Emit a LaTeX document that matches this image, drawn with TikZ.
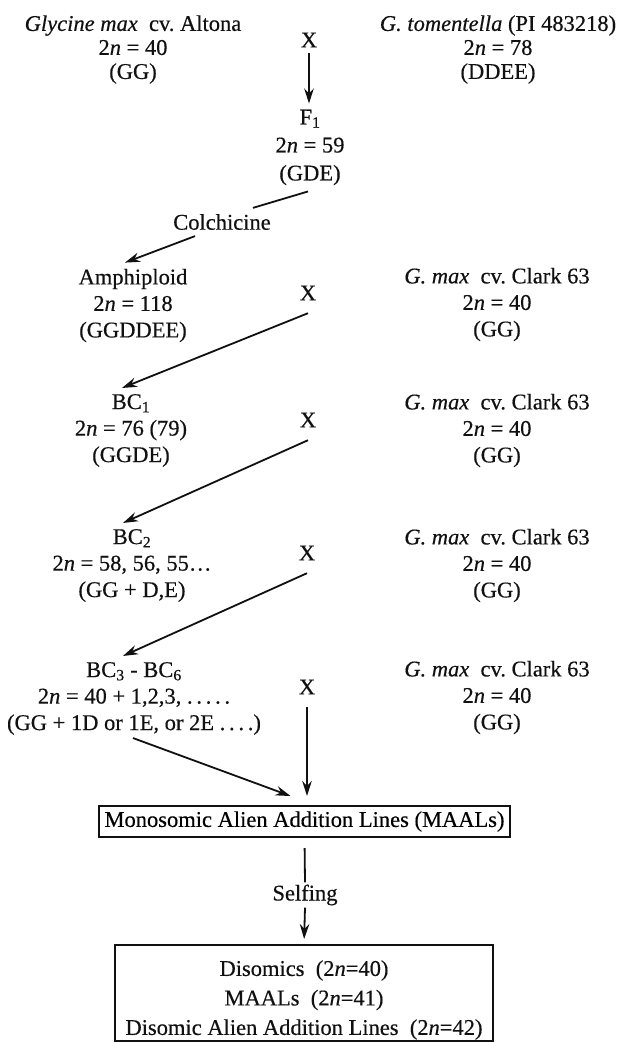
\documentclass[tikz,border=0pt]{standalone}
\usepackage{fontspec}
\setmainfont{Liberation Serif}[FakeBold=0.4]
\usepackage{tikz}
\usetikzlibrary{arrows.meta,positioning}
\definecolor{ink}{HTML}{111111}
\tikzset{
  gentext/.style={text=ink,align=center,inner sep=6pt,
                  font=\fontsize{22.5}{26.5}\selectfont},
  toptext/.style={gentext,font=\fontsize{22.5}{24}\selectfont},
  crossmark/.style={text=ink,inner sep=0pt,minimum height=40pt,
                    font=\fontsize{22.5}{26.5}\selectfont},
  linebox/.style={draw=ink,line width=2pt,inner sep=0pt,
                  font=\fontsize{22.5}{29.5}\selectfont},
  flowarr/.style={-{Stealth[length=15pt,width=9.5pt]},line width=1.8pt,draw=ink},
  plainline/.style={line width=1.8pt,draw=ink}
}
\newcommand{\twon}{2\textit{n}}
\newcommand{\clarkline}{\textit{G.\ max}\ \ cv.\ Clark 63\\ \twon{} = 40\\ (GG)}

\begin{document}
\begin{tikzpicture}[x=1pt,y=-1pt]
  \fill[white] (0,0) rectangle (619,1043);
  \useasboundingbox (0,0) rectangle (619,1043);
  % parents and F1
  \node[toptext] (altona) at (133,49.5) {\textit{Glycine max}\ \ cv.\ Altona\\ \twon{} = 40\\ (GG)};
  \node[toptext] (tomen) at (498,49.5) {\textit{G.\ tomentella} (PI 483218)\\ \twon{} = 78\\ (DDEE)};
  \node[crossmark] (x1) at (309,40) {X};
  \node[gentext,font=\fontsize{22.5}{28}\selectfont] (f1) at (310,147.5) {F\textsubscript{1}\\ \twon{} = 59\\ (GDE)};
  \node[gentext] (colch) at (222,222) {Colchicine};
  % backcross ladder
  \node[gentext] (amphi) at (133,305.5) {Amphiploid\\ \twon{} = 118\\ (GGDDEE)};
  \node[gentext] (bc1) at (131,430.5) {BC\textsubscript{1}\\ \twon{} = 76 (79)\\ (GGDE)};
  \node[gentext] (bc2) at (132,565.5) {BC\textsubscript{2}\\ \twon{} = 58, 56, 55\ldots\\ (GG + D,E)};
  \node[gentext] (bc3) at (134,698.5) {BC\textsubscript{3} - BC\textsubscript{6}\\ \twon{} = 40 + 1,2,3, .\,.\,.\,.\,.\\ (GG + 1D or 1E, or 2E .\,.\,.\,.)};
  \node[gentext] (clarkA) at (497,304.5) {\clarkline};
  \node[gentext] (clarkB) at (497,430.5) {\clarkline};
  \node[gentext] (clarkC) at (497,565.5) {\clarkline};
  \node[gentext] (clarkD) at (497,697.5) {\clarkline};
  \node[crossmark] (x2) at (308,293) {X};
  \node[crossmark] (x3) at (308,420) {X};
  \node[crossmark] (x4) at (307,553) {X};
  \node[crossmark] (x5) at (307,687) {X};
  % addition lines
  \node[linebox,minimum width=411pt,minimum height=31pt] (maal) at (304.5,821.5) {Monosomic Alien Addition Lines (MAALs)};
  \node[gentext,inner sep=2pt] (selfing) at (305,895) {Selfing};
  \node[linebox,minimum width=378pt,minimum height=96pt] (disom) at (304,993) {};
  \node[gentext,font=\fontsize{22.5}{29.5}\selectfont] (disomtxt) at (304,1000) {Disomics\ \ (\twon=40)\\ MAALs\ \ (\twon=41)\\ Disomic Alien Addition Lines\ \ (\twon=42)};
  % connectors
  \draw[flowarr] ([yshift=7pt]x1.south) -- (x1.south |- f1.north);
  \draw[plainline] ([xshift=-2pt]f1.south) -- ([xshift=-24pt]colch.north east);
  \draw[flowarr] ([xshift=-27pt]colch.south) -- ([xshift=-8pt]amphi.north);
  \draw[flowarr] (x2.south) -- ([xshift=-9pt]bc1.north);
  \draw[flowarr] (x3.south) -- ([xshift=-9pt]bc2.north);
  \draw[flowarr] (x4.south) -- ([xshift=-11pt]bc3.north);
  \draw[flowarr,shorten >=9pt] (x5.south) -- (x5.south |- maal.north);
  \draw[flowarr] ([xshift=-1pt,yshift=3pt]bc3.south) -- ([xshift=-14pt,yshift=9pt]maal.north);
  \draw[plainline,shorten <=10pt] (maal.south) -- (selfing.north);
  \draw[flowarr,shorten >=5pt] (selfing.south) -- (disom.north);
\end{tikzpicture}
\end{document}
